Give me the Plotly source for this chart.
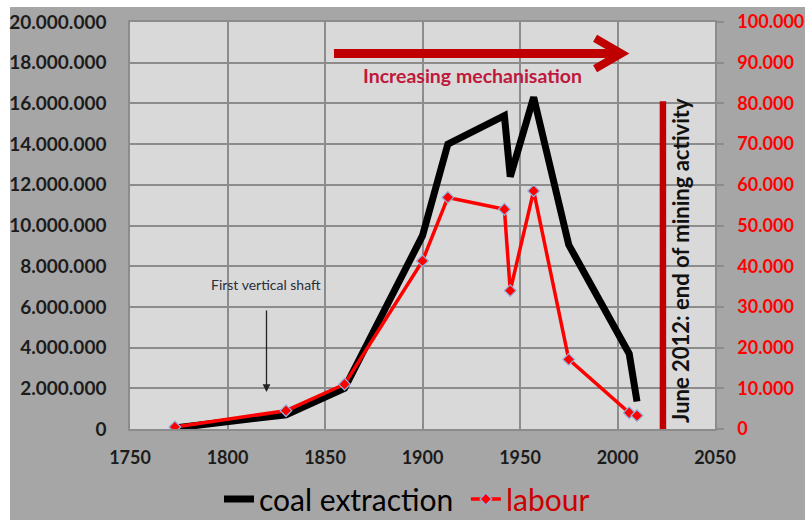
import plotly.graph_objects as go

# Coal extraction (tonnes per year) and labour force, by year
coal_years = [1773, 1830, 1860, 1900, 1913, 1942, 1945, 1957, 1975, 2006, 2010]
coal_tonnes = [50000, 700000, 2000000, 9500000, 14000000, 15400000,
               12400000, 16300000, 9050000, 3700000, 1350000]

labour_years = [1773, 1830, 1860, 1900, 1913, 1942, 1945, 1957, 1975, 2006, 2010]
labour_count = [500, 4500, 11000, 41300, 56900, 54000, 34000, 58500, 17100, 4000, 3300]

x_ticks = [1750, 1800, 1850, 1900, 1950, 2000, 2050]
y_ticks = list(range(0, 20000001, 2000000))
y2_ticks = list(range(0, 100001, 10000))

W, H = 805, 520
ML, MR, MT, MB = 130, 90, 22, 91
PW, PH = W - ML - MR, H - MT - MB

FONT = "Lato"
DARK = "#1c1c1c"
GRID = "#8c8c8c"
DARKRED = "#c00000"


def px_x(p):
    return (p - ML) / PW


def px_y(p):
    return (H - MB - p) / PH


fig = go.Figure()

fig.add_trace(go.Scatter(
    x=coal_years, y=coal_tonnes, name="coal extraction&nbsp;",
    mode="lines", line=dict(color="black", width=7),
))
fig.add_trace(go.Scatter(
    x=labour_years, y=labour_count, yaxis="y2",
    name="<span style='color:#cc0000'>labour</span>",
    mode="lines+markers", line=dict(color="#ff0000", width=3.5),
    marker=dict(symbol="diamond", size=9, color="#ff0000",
                line=dict(color="#8db3e2", width=1.2)),
))

shapes = [
    # white frame strips around the grey chart area
    dict(type="rect", xref="paper", yref="paper", layer="below",
         x0=px_x(0), x1=px_x(W), y0=px_y(7), y1=px_y(-2),
         fillcolor="white", line=dict(width=0)),
    dict(type="rect", xref="paper", yref="paper", layer="below",
         x0=px_x(-2), x1=px_x(10), y0=px_y(H + 2), y1=px_y(0),
         fillcolor="white", line=dict(width=0)),
    # mechanisation arrow
    dict(type="line", xref="x", yref="y", x0=1854.6, x1=2000, y0=18.45e6, y1=18.45e6,
         line=dict(color=DARKRED, width=9)),
    dict(type="path", xref="x", yref="y",
         path="M 1988.5,19.2e6 L 2002,18.45e6 L 1988.5,17.7e6",
         line=dict(color=DARKRED, width=8)),
    # end of mining marker
    dict(type="line", xref="x", yref="y", x0=2023.3, x1=2023.3, y0=0, y1=16.1e6,
         line=dict(color=DARKRED, width=6.5)),
]

annotations = [
    dict(x=1925.5, y=17.35e6, xref="x", yref="y", showarrow=False,
         text="Increasing mechanisation",
         font=dict(family=FONT, size=19.5, color="#c0183c", weight="bold")),
    dict(x=2032.0, y=8.3e6, xref="x", yref="y", showarrow=False, textangle=-90,
         text="June 2012: end of mining activity",
         font=dict(family=FONT, size=22, color="#111111", weight="bold")),
    dict(x=1819.8, y=7.08e6, xref="x", yref="y", showarrow=False,
         text="First vertical shaft",
         font=dict(family=FONT, size=14, color="#2a2f3a")),
    dict(x=1820, y=1.82e6, ax=1820, ay=5.9e6, xref="x", yref="y",
         axref="x", ayref="y", showarrow=True, text="",
         arrowhead=2, arrowsize=1.2, arrowwidth=1.3, arrowcolor="#222222"),
]

fig.update_layout(
    width=W, height=H,
    margin=dict(l=ML, r=MR, t=MT, b=MB, pad=0, autoexpand=False),
    paper_bgcolor="#a6a6a6",
    plot_bgcolor="#d9d9d9",
    separators=",.",
    font=dict(family=FONT, color=DARK),
    xaxis=dict(
        range=[1750, 2050], tickvals=x_ticks, showgrid=True,
        gridcolor=GRID, gridwidth=1.5, zeroline=False,
        showline=True, linecolor=GRID, linewidth=1.5, mirror=True,
        ticks="", ticklabelstandoff=12, automargin=False,
        tickfont=dict(family=FONT, size=18, color=DARK, weight="bold"),
    ),
    yaxis=dict(
        range=[0, 20000000], tickvals=y_ticks, tickformat=",d",
        showgrid=True, gridcolor=GRID, gridwidth=1.5, zeroline=False,
        showline=True, linecolor=GRID, linewidth=1.5,
        ticks="", ticklabelstandoff=18, automargin=False,
        tickfont=dict(family=FONT, size=19, color=DARK, weight="bold"),
    ),
    yaxis2=dict(
        range=[0, 100000], tickvals=y2_ticks, tickformat=",d",
        overlaying="y", side="right", showgrid=False, zeroline=False,
        showline=True, linecolor=GRID, linewidth=1.5,
        ticks="outside", ticklen=7, tickcolor=GRID, tickwidth=1.5,
        ticklabelstandoff=10, automargin=False,
        tickfont=dict(family=FONT, size=18, color="#ff0000", weight="bold"),
    ),
    legend=dict(
        orientation="h", x=0.4735, xanchor="center", y=px_y(499), yanchor="middle",
        bgcolor="rgba(0,0,0,0)", font=dict(family=FONT, size=30, color="black"),
        itemwidth=30, tracegroupgap=0,
    ),
    showlegend=True,
    shapes=shapes,
    annotations=annotations,
)

fig.write_html("out.html")
